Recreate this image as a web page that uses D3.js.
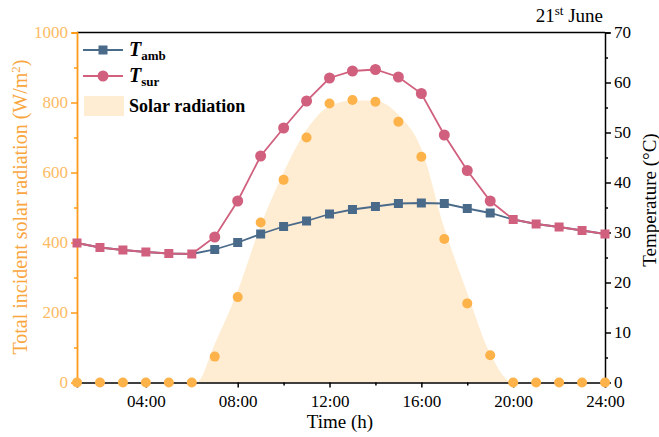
<!DOCTYPE html>
<html>
<head>
<meta charset="utf-8">
<script src="https://cdn.jsdelivr.net/npm/d3@7"></script>
<style>
  body { margin: 0; background: #fff; }
  text { font-family: "Liberation Serif", "DejaVu Serif", serif; }
</style>
</head>
<body>
<script>
// hours of the day
var hours = [1,2,3,4,5,6,7,8,9,10,11,12,13,14,15,16,17,18,19,20,21,22,23,24];
// measured solar radiation (W/m2)
var solar = [0,0,0,0,0,0,74,244,457,579,700,797,807,802,745,645,410,226,78,0,0,0,0,0];
// shaded solar radiation profile (W/m2)
var solarAreaHours = [1,6,6.2,7,8,9,10,11,12,13,14,15,16,17,18,19,20,24];
var solarArea = [0,0,0,110,262,448,600,722,790,806,805,765,668,442,256,82,0,0];
// ambient and surface temperature (degC)
var tAmb = [27.9,27.0,26.5,26.1,25.8,25.7,26.6,28.0,29.7,31.2,32.3,33.7,34.6,35.2,35.8,35.9,35.8,34.8,33.9,32.6,31.7,31.1,30.4,29.7];
var tSur = [27.9,27.0,26.5,26.1,25.8,25.7,29.1,36.3,45.3,50.9,56.3,60.9,62.3,62.6,61.1,57.8,49.5,42.4,36.3,32.6,31.7,31.1,30.4,29.7];
var xTicks = [4,8,12,16,20,24];
var xTickLabels = ["04:00","08:00","12:00","16:00","20:00","24:00"];

var W = 659, H = 437;
var m = {left: 77, right: 54, top: 32.5, bottom: 54.5};

var orange = "#FF9A1A", orangeText = "#FDBB63", orangeDot = "#FDB24A", areaFill = "#FEEDD3";
var blue = "#4A6A8A", pink = "#D0607E";

var svg = d3.select("body").append("svg")
    .attr("width", W).attr("height", H);

var x = d3.scaleLinear().domain([1, 24]).range([m.left, W - m.right]);
var yL = d3.scaleLinear().domain([0, 1000]).range([H - m.bottom, m.top]);
var yR = d3.scaleLinear().domain([0, 70]).range([H - m.bottom, m.top]);

// shaded solar area
var areaData = solarAreaHours.map(function(h, i) { return [h, solarArea[i]]; });
svg.append("path")
    .datum(areaData)
    .attr("fill", areaFill)
    .attr("d", d3.area().curve(d3.curveMonotoneX)
        .x(function(d) { return x(d[0]); })
        .y0(yL(0))
        .y1(function(d) { return yL(d[1]); }));

// axes
var gB = svg.append("g").attr("transform", "translate(0," + yL(0) + ")")
    .call(d3.axisBottom(x).tickValues(d3.range(2, 25, 2)).tickSize(5)
        .tickFormat(function(d) { var i = xTicks.indexOf(d); return i < 0 ? "" : xTickLabels[i]; }));
gB.select(".domain").attr("stroke", "#000").attr("stroke-width", 1.5);
gB.selectAll(".tick line").attr("stroke", "#000").attr("stroke-width", 1.5)
    .attr("y2", function(d) { return xTicks.indexOf(d) < 0 ? 3 : 5; });
gB.selectAll("text").attr("font-size", 17).attr("fill", "#000").attr("dy", "0.95em");

// top border
svg.append("line").attr("x1", m.left).attr("x2", W - m.right)
    .attr("y1", m.top).attr("y2", m.top).attr("stroke", "#000").attr("stroke-width", 1.5);

var gL = svg.append("g").attr("transform", "translate(" + m.left + ",0)")
    .call(d3.axisLeft(yL).tickValues(d3.range(0, 1001, 100)).tickSize(5)
        .tickFormat(function(d) { return d % 200 === 0 ? d : ""; }));
gL.select(".domain").attr("stroke", orange).attr("stroke-width", 1.8);
gL.selectAll(".tick line").attr("stroke", orange).attr("stroke-width", 1.5)
    .attr("x2", function(d) { return d % 200 === 0 ? -6 : -3; });
gL.selectAll("text").attr("font-size", 17).attr("fill", orangeText).attr("x", -9);

var gR = svg.append("g").attr("transform", "translate(" + (W - m.right) + ",0)")
    .call(d3.axisRight(yR).tickValues(d3.range(0, 71, 5)).tickSize(5)
        .tickFormat(function(d) { return d % 10 === 0 ? d : ""; }));
gR.select(".domain").attr("stroke", "#000").attr("stroke-width", 1.5);
gR.selectAll(".tick line").attr("stroke", "#000").attr("stroke-width", 1.5)
    .attr("x2", function(d) { return d % 10 === 0 ? 6 : 3; });
gR.selectAll("text").attr("font-size", 17).attr("fill", "#000").attr("x", 9);
svg.selectAll(".tick text").attr("font-family", "Liberation Serif, serif");

// axis titles
svg.append("text").attr("x", x(12.5) - 1).attr("y", 428).attr("text-anchor", "middle")
    .attr("font-size", 19).text("Time (h)");
var lt = svg.append("text").attr("transform", "translate(27,207) rotate(-90)")
    .attr("text-anchor", "middle").attr("font-size", 20).attr("fill", "#F9A63E");
lt.append("tspan").text("Total incident solar radiation (W/m");
lt.append("tspan").attr("dy", -7).attr("font-size", 13).text("2");
lt.append("tspan").attr("dy", 7).text(")");
svg.append("text").attr("transform", "translate(656,200) rotate(-90)")
    .attr("text-anchor", "middle").attr("font-size", 19).text("Temperature (\u00B0C)");

// title
var tt = svg.append("text").attr("x", W - m.right - 2).attr("y", 22).attr("text-anchor", "end")
    .attr("font-size", 19);
tt.append("tspan").text("21");
tt.append("tspan").attr("dy", -7).attr("font-size", 13).text("st");
tt.append("tspan").attr("dy", 7).text(" June");

// lines
var lineT = d3.line().x(function(d, i) { return x(hours[i]); }).y(function(d) { return yR(d); });
svg.append("path").datum(tAmb).attr("fill", "none").attr("stroke", blue).attr("stroke-width", 1.8).attr("d", lineT);
svg.append("path").datum(tSur).attr("fill", "none").attr("stroke", pink).attr("stroke-width", 1.8).attr("d", lineT);

// solar dots
svg.selectAll(".sol").data(solar).enter().append("circle")
    .attr("cx", function(d, i) { return x(hours[i]); })
    .attr("cy", function(d) { return yL(d); })
    .attr("r", 5).attr("fill", orangeDot);

// ambient squares (pink where the surface curve lies on top)
svg.selectAll(".amb").data(tAmb).enter().append("rect")
    .attr("x", function(d, i) { return x(hours[i]) - 4.5; })
    .attr("y", function(d) { return yR(d) - 4.5; })
    .attr("width", 9).attr("height", 9)
    .attr("fill", function(d, i) { return Math.abs(tSur[i] - d) < 0.3 ? pink : blue; });

// surface circles where they differ from ambient
var surPts = tSur.map(function(d, i) { return {h: hours[i], t: d, a: tAmb[i]}; })
    .filter(function(p) { return Math.abs(p.t - p.a) >= 0.3; });
svg.selectAll(".sur").data(surPts).enter().append("circle")
    .attr("cx", function(p) { return x(p.h); })
    .attr("cy", function(p) { return yR(p.t); })
    .attr("r", 5.5).attr("fill", pink);

// legend
var lg = svg.append("g");
lg.append("line").attr("x1", 83).attr("x2", 123).attr("y1", 50).attr("y2", 50).attr("stroke", blue).attr("stroke-width", 1.8);
lg.append("rect").attr("x", 98.5).attr("y", 45.5).attr("width", 9).attr("height", 9).attr("fill", blue);
lg.append("line").attr("x1", 83).attr("x2", 123).attr("y1", 76).attr("y2", 76).attr("stroke", pink).attr("stroke-width", 1.8);
lg.append("circle").attr("cx", 103).attr("cy", 76).attr("r", 5.5).attr("fill", pink);
lg.append("rect").attr("x", 84).attr("y", 96).attr("width", 40).attr("height", 20).attr("fill", areaFill);

var l1 = lg.append("text").attr("x", 129).attr("y", 56).attr("font-size", 20).attr("font-weight", "bold");
l1.append("tspan").attr("font-style", "italic").text("T");
l1.append("tspan").attr("dy", 4).attr("font-size", 13).text("amb");
var l2 = lg.append("text").attr("x", 129).attr("y", 82).attr("font-size", 20).attr("font-weight", "bold");
l2.append("tspan").attr("font-style", "italic").text("T");
l2.append("tspan").attr("dy", 4).attr("font-size", 13).text("sur");
lg.append("text").attr("x", 129).attr("y", 112).attr("font-size", 18).attr("font-weight", "bold").text("Solar radiation");
</script>
</body>
</html>
